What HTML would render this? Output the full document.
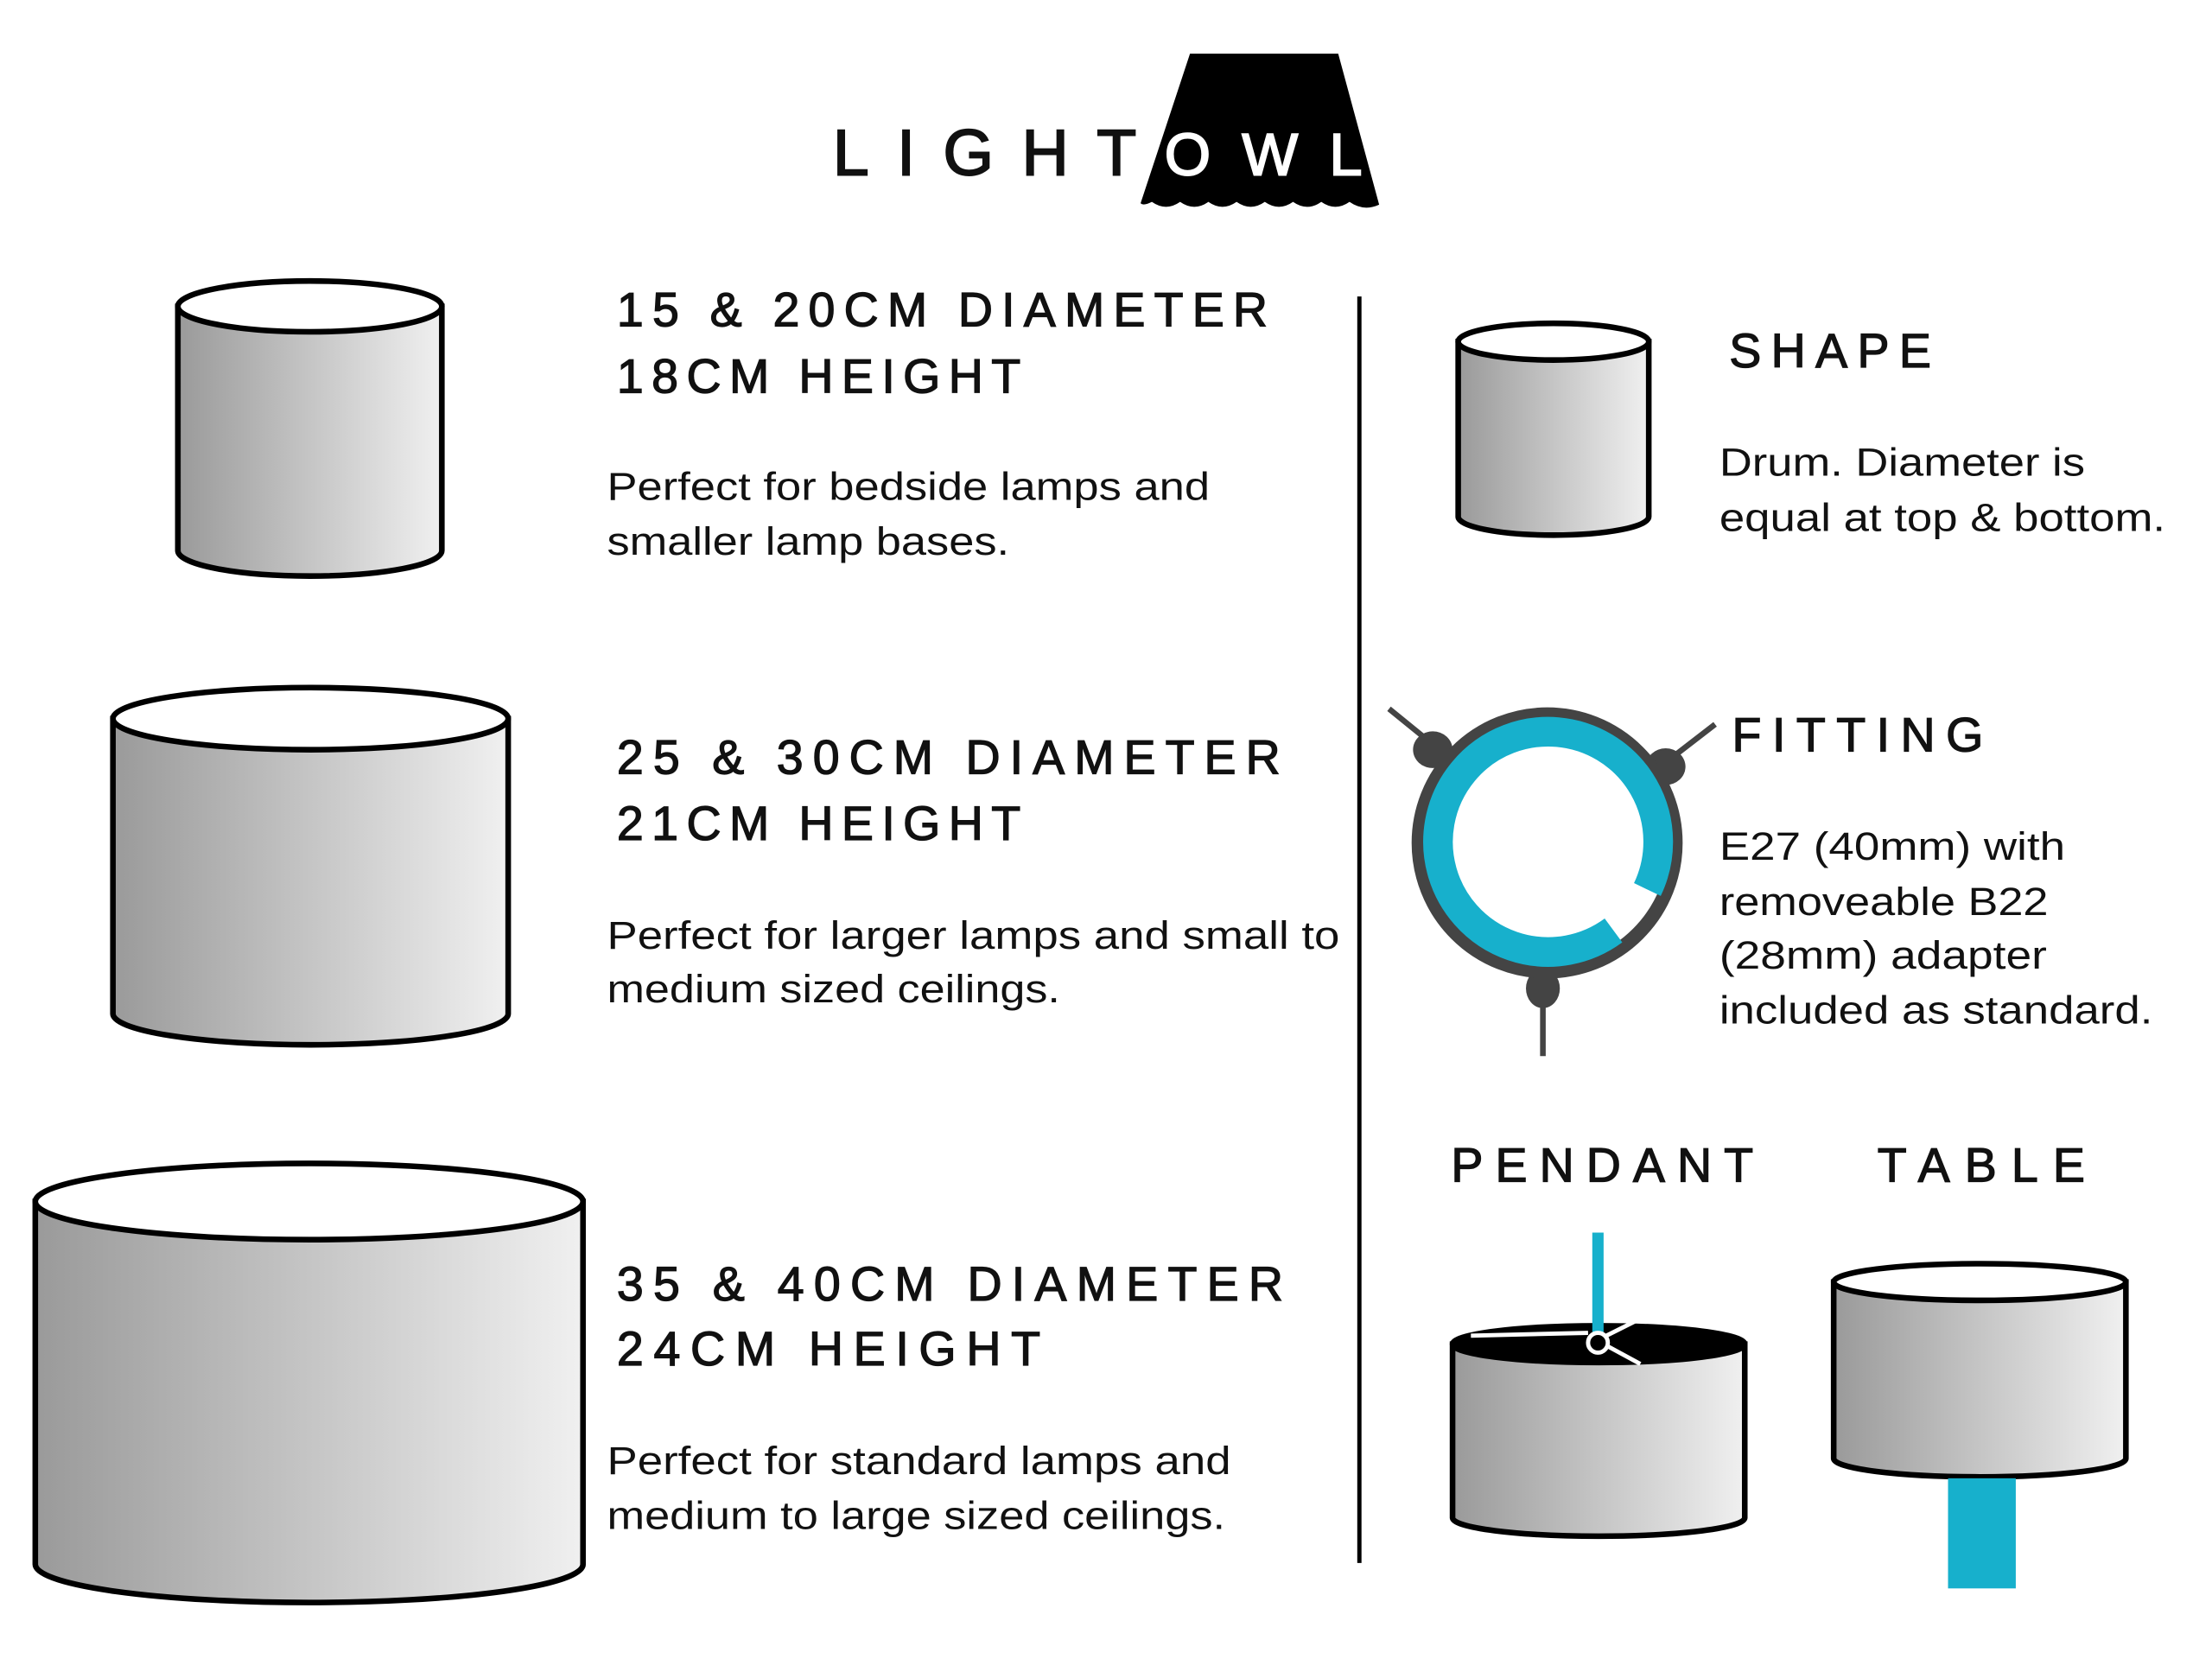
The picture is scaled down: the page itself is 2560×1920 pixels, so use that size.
<!DOCTYPE html>
<html><head><meta charset="utf-8"><style>
html,body{margin:0;padding:0;background:#fff;}
svg{display:block;}
.h{font-family:"Liberation Sans",sans-serif;font-size:34px;fill:#111;stroke:#111;stroke-width:0.8;}
.b{font-family:"Liberation Sans",sans-serif;font-size:28px;fill:#111;}
</style></head><body>
<svg width="2560" height="1920" viewBox="0 0 1567 1175" preserveAspectRatio="none" xmlns="http://www.w3.org/2000/svg">
<defs>
<linearGradient id="g" x1="0" x2="1" y1="0" y2="0">
<stop offset="0" stop-color="#9a9a9a"/><stop offset="1" stop-color="#f0f0f0"/>
</linearGradient>
</defs>
<rect width="1567" height="1175" fill="#fff"/>

<!-- logo -->
<text x="590" y="124" class="h" style="font-size:46px;stroke-width:1.2" textLength="215" lengthAdjust="spacing">LIGHT</text>
<path d="M843,38 L948,38 L977,145 Q966,150 956,143 Q946,150 936,143 Q926,150 916,143 Q906,150 896,143 Q886,150 876,143 Q866,150 856,143 Q846,150 836,143 Q826,150 816,143 Q810,146 808,144 Z" fill="#000"/>
<text x="825" y="124" class="h" style="font-size:42px;fill:#fff;stroke:#fff;stroke-width:1.2" textLength="140" lengthAdjust="spacing">OWL</text>

<!-- cylinders -->
<g stroke="#000" stroke-width="4">
<path d="M126,217 L126,390 A93.5,18 0 0 0 313,390 L313,217 Z" fill="url(#g)"/>
<ellipse cx="219.5" cy="217" rx="93.5" ry="18" fill="#fff"/>
<path d="M80,509 L80,718 A140,22 0 0 0 360,718 L360,509 Z" fill="url(#g)"/>
<ellipse cx="220" cy="509" rx="140" ry="22" fill="#fff"/>
<path d="M25,851 L25,1108 A194,27 0 0 0 413,1108 L413,851 Z" fill="url(#g)"/>
<ellipse cx="219" cy="851" rx="194" ry="27" fill="#fff"/>
<path d="M1033,242 L1033,366 A67.5,13 0 0 0 1168,366 L1168,242 Z" fill="url(#g)"/>
<ellipse cx="1100.5" cy="242" rx="67.5" ry="13" fill="#fff"/>
<path d="M1029,952 L1029,1075 A103.5,13 0 0 0 1236,1075 L1236,952 Z" fill="url(#g)"/>
<ellipse cx="1132.5" cy="952" rx="103.5" ry="13" fill="#000"/>
<path d="M1299,908 L1299,1033 A103.5,13 0 0 0 1506,1033 L1506,908 Z" fill="url(#g)"/>
<ellipse cx="1402.5" cy="908" rx="103.5" ry="13" fill="#fff"/>
</g>
<rect x="1380" y="1047" width="48" height="78" fill="#17b0cc"/>
<rect x="1128" y="873" width="8" height="76" fill="#17b0cc"/>
<g stroke="#fff" stroke-width="3"><line x1="1042" y1="946" x2="1125" y2="944"/><line x1="1138" y1="953" x2="1162" y2="966"/><line x1="1138" y1="946" x2="1158" y2="936"/></g>
<circle cx="1132" cy="951" r="7" fill="#000" stroke="#fff" stroke-width="3"/>

<line x1="963" y1="210" x2="963" y2="1107" stroke="#000" stroke-width="3"/>

<!-- fitting -->
<g stroke="#444" stroke-width="4">
<line x1="984" y1="502" x2="1016" y2="528"/>
<line x1="1215" y1="513" x2="1180" y2="540"/>
<line x1="1093" y1="700" x2="1093" y2="748"/>
</g>
<g fill="#444">
<ellipse cx="1015" cy="531" rx="14" ry="13"/><ellipse cx="1180" cy="543" rx="14" ry="13"/><ellipse cx="1093" cy="700" rx="12" ry="14"/>
</g>
<circle cx="1096" cy="597" r="91" fill="none" stroke="#444" stroke-width="10"/>
<path d="M1143,659 A78,78 0 1 1 1167,630" fill="none" stroke="#17b0cc" stroke-width="21"/>

<!-- headings -->
<text x="437" y="231" class="h" textLength="461" lengthAdjust="spacing">15 &amp; 20CM DIAMETER</text>
<text x="437" y="278" class="h" textLength="286" lengthAdjust="spacing">18CM HEIGHT</text>
<text x="430" y="354" class="b" textLength="427" lengthAdjust="spacingAndGlyphs">Perfect for bedside lamps and</text>
<text x="430" y="393" class="b" textLength="285" lengthAdjust="spacingAndGlyphs">smaller lamp bases.</text>

<text x="437" y="548" class="h" textLength="470" lengthAdjust="spacing">25 &amp; 30CM DIAMETER</text>
<text x="437" y="595" class="h" textLength="286" lengthAdjust="spacing">21CM HEIGHT</text>
<text x="430" y="672" class="b" textLength="519" lengthAdjust="spacingAndGlyphs">Perfect for larger lamps and small to</text>
<text x="430" y="710" class="b" textLength="321" lengthAdjust="spacingAndGlyphs">medium sized ceilings.</text>

<text x="437" y="921" class="h" textLength="472" lengthAdjust="spacing">35 &amp; 40CM DIAMETER</text>
<text x="437" y="967" class="h" textLength="300" lengthAdjust="spacing">24CM HEIGHT</text>
<text x="430" y="1044" class="b" textLength="442" lengthAdjust="spacingAndGlyphs">Perfect for standard lamps and</text>
<text x="430" y="1083" class="b" textLength="438" lengthAdjust="spacingAndGlyphs">medium to large sized ceilings.</text>

<text x="1225" y="260" class="h" textLength="143" lengthAdjust="spacing">SHAPE</text>
<text x="1218" y="337" class="b" textLength="259" lengthAdjust="spacingAndGlyphs">Drum. Diameter is</text>
<text x="1218" y="376" class="b" textLength="316" lengthAdjust="spacingAndGlyphs">equal at top &amp; bottom.</text>

<text x="1227" y="532" class="h" textLength="178" lengthAdjust="spacing">FITTING</text>
<text x="1218" y="609" class="b" textLength="245" lengthAdjust="spacingAndGlyphs">E27 (40mm) with</text>
<text x="1218" y="648" class="b" textLength="233" lengthAdjust="spacingAndGlyphs">removeable B22</text>
<text x="1218" y="686" class="b" textLength="232" lengthAdjust="spacingAndGlyphs">(28mm) adapter</text>
<text x="1218" y="725" class="b" textLength="307" lengthAdjust="spacingAndGlyphs">included as standard.</text>

<text x="1028" y="837" class="h" textLength="214" lengthAdjust="spacing">PENDANT</text>
<text x="1330" y="837" class="h" textLength="147" lengthAdjust="spacing">TABLE</text>
</svg>
</body></html>
